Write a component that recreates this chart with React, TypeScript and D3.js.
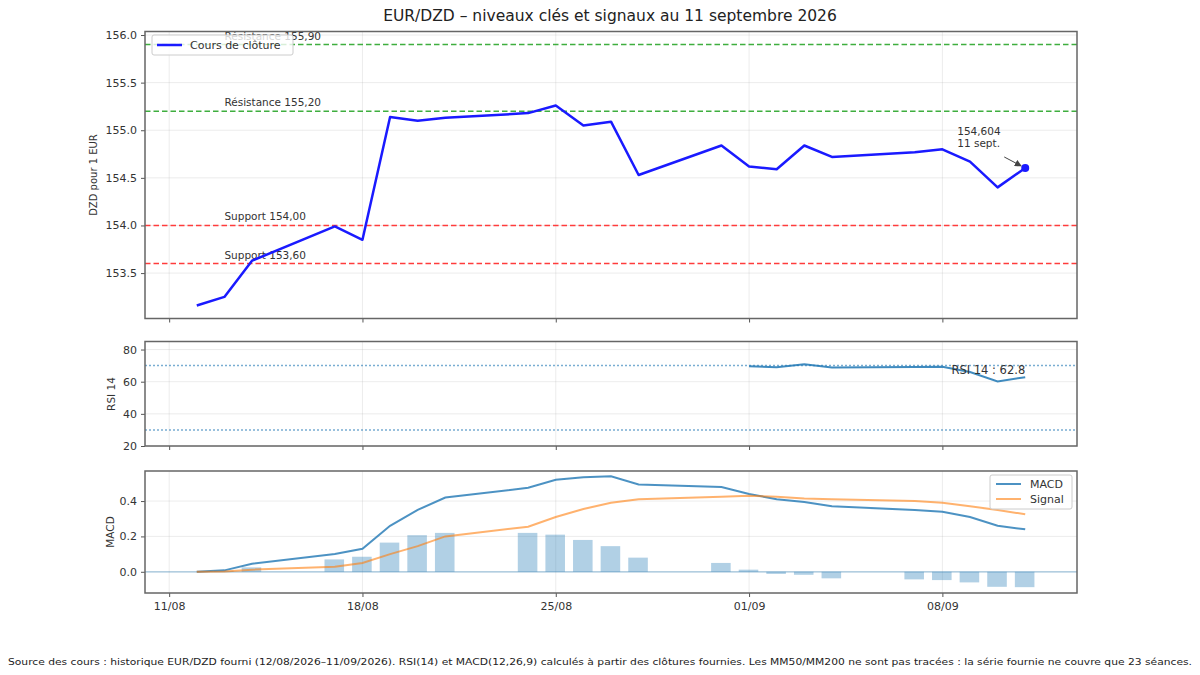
// @ts-nocheck
import React, { useEffect, useRef } from 'react'
import * as d3 from 'd3'

// Séances (jours ouvrés) du 12/08/2026 au 11/09/2026
const dates = [
    '2026-08-12', '2026-08-13', '2026-08-14', '2026-08-17', '2026-08-18', '2026-08-19',
    '2026-08-20', '2026-08-21', '2026-08-24', '2026-08-25', '2026-08-26', '2026-08-27',
    '2026-08-28', '2026-08-31', '2026-09-01', '2026-09-02', '2026-09-03', '2026-09-04',
    '2026-09-07', '2026-09-08', '2026-09-09', '2026-09-10', '2026-09-11'
]
const closes = [
    153.16, 153.25, 153.63, 153.99, 153.85, 155.14, 155.10, 155.13, 155.18, 155.26, 155.05, 155.09,
    154.53, 154.84, 154.62, 154.59, 154.84, 154.72, 154.77, 154.80, 154.67, 154.40, 154.604
]
const rsi = [
    null, null, null, null, null, null, null, null, null, null, null, null, null, null,
    69.6, 69.0, 70.9, 68.9, 69.1, 69.3, 66.0, 60.2, 62.8
]
const macd = [
    0.0, 0.008, 0.045, 0.10, 0.13, 0.26, 0.35, 0.42, 0.475, 0.52, 0.535, 0.54,
    0.494, 0.48, 0.44, 0.41, 0.395, 0.37, 0.35, 0.34, 0.31, 0.26, 0.24
]
const signal = [
    0.0, 0.002, 0.012, 0.028, 0.05, 0.10, 0.145, 0.20, 0.255, 0.31, 0.355, 0.39,
    0.41, 0.425, 0.43, 0.425, 0.415, 0.41, 0.40, 0.39, 0.37, 0.35, 0.325
]
const hist = [
    0.0, 0.006, 0.025, 0.07, 0.085, 0.165, 0.207, 0.22, 0.22, 0.21, 0.18, 0.145,
    0.08, 0.05, 0.012, -0.012, -0.017, -0.037, -0.043, -0.047, -0.06, -0.085, -0.087
]

const xTicks = ['2026-08-11', '2026-08-18', '2026-08-25', '2026-09-01', '2026-09-08']
const priceTicks = [153.5, 154.0, 154.5, 155.0, 155.5, 156.0]
const rsiTicks = [20, 40, 60, 80]
const macdTicks = [0.0, 0.2, 0.4]

const resistances = [155.9, 155.2]
const resistanceLabels = ['Résistance 155,90', 'Résistance 155,20']
const supports = [154.0, 153.6]
const supportLabels = ['Support 154,00', 'Support 153,60']

const title = 'EUR/DZD – niveaux clés et signaux au 11 septembre 2026'
const footer = 'Source des cours : historique EUR/DZD fourni (12/08/2026–11/09/2026). RSI(14) et MACD(12,26,9) calculés à partir des clôtures fournies. Les MM50/MM200 ne sont pas tracées : la série fournie ne couvre que 23 séances.'

const W = 1200, H = 675
const L = 145, R = 1077
const font = 'DejaVu Sans, sans-serif'

export default function App() {
    const ref = useRef(null)

    useEffect(() => {
        const svg = d3.select(ref.current)
        svg.selectAll('*').remove()

        const parse = d3.timeParse('%Y-%m-%d')
        const days = dates.map(parse)
        const last = days.length - 1
        const x = d3.scaleTime(
            [d3.timeHour.offset(days[0], -45), d3.timeHour.offset(days[last], 45)],
            [L, R])
        const ticks = xTicks.map(parse)

        // Common frame for a panel: grid + axes, returns y scale and a closer
        const panel = (top, bottom, domain, yTicks, fmt, showX) => {
            const y = d3.scaleLinear(domain, [bottom, top])
            const g = svg.append('g')
            g.append('g').selectAll('line').data(ticks).join('line')
                .attr('x1', d => x(d)).attr('x2', d => x(d))
                .attr('y1', top).attr('y2', bottom)
                .attr('stroke', '#b0b0b0').attr('stroke-opacity', 0.3).attr('stroke-width', 0.8)
            g.append('g').selectAll('line').data(yTicks).join('line')
                .attr('x1', L).attr('x2', R)
                .attr('y1', d => y(d)).attr('y2', d => y(d))
                .attr('stroke', '#b0b0b0').attr('stroke-opacity', 0.3).attr('stroke-width', 0.8)

            const ax = g.append('g')
                .attr('transform', `translate(0,${bottom})`)
                .call(d3.axisBottom(x).tickValues(ticks).tickSize(4).tickPadding(5)
                    .tickFormat(showX ? d3.timeFormat('%d/%m') : () => ''))
            const ay = g.append('g')
                .attr('transform', `translate(${L},0)`)
                .call(d3.axisLeft(y).tickValues(yTicks).tickSize(4).tickPadding(4).tickFormat(fmt))
            for (const a of [ax, ay]) {
                a.select('.domain').remove()
                a.selectAll('text').attr('font-family', font).attr('font-size', 11).attr('fill', '#333')
                a.selectAll('line').attr('stroke', '#555')
            }
            const close = () => g.append('rect')
                .attr('x', L).attr('y', top).attr('width', R - L).attr('height', bottom - top)
                .attr('fill', 'none').attr('stroke', '#666').attr('stroke-width', 1.5)
            return { y, g, close }
        }

        // Title
        svg.append('text')
            .attr('x', 610).attr('y', 21).attr('text-anchor', 'middle')
            .attr('font-family', font).attr('font-size', 15.5).attr('fill', '#222')
            .text(title)

        // ---- Price panel
        const p = panel(31.5, 318.5, [153.023, 156.037], priceTicks, d3.format('.1f'), false)
        const levelRows = [
            ...resistances.map((v, i) => ({ v, label: resistanceLabels[i], color: '#3fae3f' })),
            ...supports.map((v, i) => ({ v, label: supportLabels[i], color: '#ff3c3c' }))
        ]
        p.g.append('g').selectAll('line').data(levelRows).join('line')
            .attr('x1', L).attr('x2', R)
            .attr('y1', d => p.y(d.v)).attr('y2', d => p.y(d.v))
            .attr('stroke', d => d.color).attr('stroke-width', 1.6).attr('stroke-dasharray', '5.5,3')
        p.g.append('g').selectAll('text').data(levelRows).join('text')
            .attr('x', x(days[1])).attr('y', d => p.y(d.v) - 5)
            .attr('font-family', font).attr('font-size', 10.5).attr('fill', '#333')
            .text(d => d.label)

        p.g.append('path')
            .attr('fill', 'none').attr('stroke', '#1a1aff').attr('stroke-width', 2.5)
            .attr('stroke-linejoin', 'round')
            .attr('d', d3.line().x((d, i) => x(days[i])).y(d => p.y(d))(closes))
        const lx = x(days[last]), ly = p.y(closes[last])
        p.g.append('circle').attr('cx', lx).attr('cy', ly).attr('r', 4).attr('fill', '#1a1aff')

        // Annotation with arrow
        svg.append('defs').append('marker')
            .attr('id', 'arr').attr('viewBox', '0 0 10 10').attr('refX', 9).attr('refY', 5)
            .attr('markerWidth', 7).attr('markerHeight', 7).attr('orient', 'auto')
            .append('path').attr('d', 'M0,0 L10,5 L0,10 z').attr('fill', '#444')
        p.g.append('line')
            .attr('x1', lx - 21).attr('y1', ly - 11).attr('x2', lx - 4).attr('y2', ly - 2)
            .attr('stroke', '#444').attr('stroke-width', 1).attr('marker-end', 'url(#arr)')
        const ann = p.g.append('text').attr('font-family', font).attr('font-size', 10.5).attr('fill', '#333')
        ann.append('tspan').attr('x', lx - 68).attr('y', ly - 33).text('154,604')
        ann.append('tspan').attr('x', lx - 68).attr('y', ly - 21).text('11 sept.')

        // Legend (drawn over the first resistance label, as in the source)
        const lg = p.g.append('g')
        lg.append('rect').attr('x', 152).attr('y', 35).attr('width', 141).attr('height', 20).attr('rx', 2)
            .attr('fill', 'white').attr('fill-opacity', 0.8).attr('stroke', '#ccc')
        lg.append('line').attr('x1', 157).attr('x2', 182).attr('y1', 45).attr('y2', 45)
            .attr('stroke', '#1a1aff').attr('stroke-width', 2.5)
        lg.append('text').attr('x', 190).attr('y', 49)
            .attr('font-family', font).attr('font-size', 11).attr('fill', '#333').text('Cours de clôture')
        p.close()

        // ---- RSI panel
        const r = panel(341.5, 446, [20, 85], rsiTicks, d3.format('d'), false)
        r.g.append('g').selectAll('line').data([70, 30]).join('line')
            .attr('x1', L).attr('x2', R).attr('y1', d => r.y(d)).attr('y2', d => r.y(d))
            .attr('stroke', '#1f77b4').attr('stroke-opacity', 0.6).attr('stroke-width', 1.5)
            .attr('stroke-dasharray', '2,2')
        r.g.append('path')
            .attr('fill', 'none').attr('stroke', '#1f77b4').attr('stroke-opacity', 0.85).attr('stroke-width', 2)
            .attr('d', d3.line().defined(d => d != null).x((d, i) => x(days[i])).y(d => r.y(d))(rsi))
        r.g.append('text')
            .attr('x', x(days[last])).attr('y', r.y(rsi[last] + 2)).attr('text-anchor', 'end')
            .attr('font-family', font).attr('font-size', 11.5).attr('fill', '#333')
            .text(`RSI 14 : ${rsi[last].toFixed(1)}`)
        r.close()

        // ---- MACD panel
        const m = panel(471, 593, [-0.12, 0.57], macdTicks, d3.format('.1f'), true)
        const half = (d, s) => x(d3.timeHour.offset(d, s * 8.4))
        m.g.append('g').selectAll('rect').data(hist).join('rect')
            .attr('x', (d, i) => half(days[i], -1))
            .attr('width', (d, i) => half(days[i], 1) - half(days[i], -1))
            .attr('y', d => m.y(Math.max(0, d)))
            .attr('height', d => Math.abs(m.y(d) - m.y(0)))
            .attr('fill', '#1f77b4').attr('fill-opacity', 0.35)
        m.g.append('line').attr('x1', L).attr('x2', R).attr('y1', m.y(0)).attr('y2', m.y(0))
            .attr('stroke', '#1f77b4').attr('stroke-opacity', 0.4).attr('stroke-width', 1.2)
        const ml = d3.line().x((d, i) => x(days[i])).y(d => m.y(d))
        m.g.append('path').attr('fill', 'none').attr('stroke', '#1f77b4').attr('stroke-opacity', 0.8)
            .attr('stroke-width', 2).attr('d', ml(macd))
        m.g.append('path').attr('fill', 'none').attr('stroke', '#ff7f0e').attr('stroke-opacity', 0.6)
            .attr('stroke-width', 2).attr('d', ml(signal))

        const mg = m.g.append('g')
        mg.append('rect').attr('x', 990).attr('y', 475).attr('width', 82).attr('height', 34).attr('rx', 2)
            .attr('fill', 'white').attr('fill-opacity', 0.85).attr('stroke', '#ccc')
        const items = [['MACD', '#1f77b4', 0.8], ['Signal', '#ff7f0e', 0.6]]
        items.forEach(([name, c, o], i) => {
            mg.append('line').attr('x1', 996).attr('x2', 1021).attr('y1', 484 + i * 15).attr('y2', 484 + i * 15)
                .attr('stroke', c).attr('stroke-opacity', o).attr('stroke-width', 2)
            mg.append('text').attr('x', 1030).attr('y', 488 + i * 15)
                .attr('font-family', font).attr('font-size', 11).attr('fill', '#333').text(name)
        })
        m.close()

        // Axis titles
        const yl = [['DZD pour 1 EUR', 93, 175, 10], ['RSI 14', 111, 394, 10.5], ['MACD', 110, 532, 10.5]]
        for (const [t, cx, cy, fs] of yl) {
            svg.append('text')
                .attr('transform', `translate(${cx},${cy}) rotate(-90)`)
                .attr('text-anchor', 'middle').attr('dominant-baseline', 'central')
                .attr('font-family', font).attr('font-size', fs).attr('fill', '#333').text(t)
        }

        // Footer
        svg.append('text')
            .attr('x', 8).attr('y', 665).attr('textLength', 1184).attr('lengthAdjust', 'spacingAndGlyphs')
            .attr('font-family', font).attr('font-size', 9.5).attr('fill', '#222').text(footer)
    }, [])

    return <svg ref={ref} width={W} height={H}
        style={{ position: 'absolute', left: 0, top: 0, background: 'white' }} />
}
